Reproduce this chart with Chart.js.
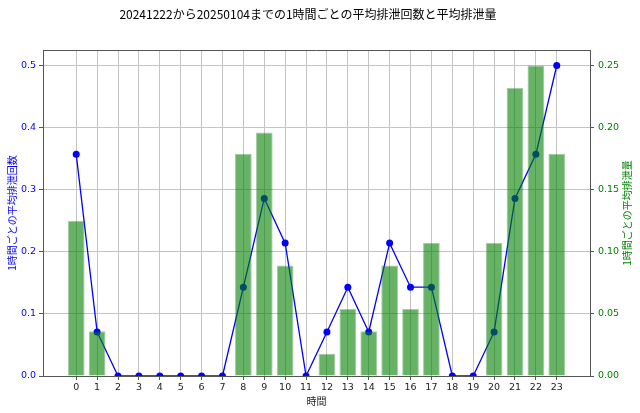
<!DOCTYPE html>
<html>
<head>
<meta charset="utf-8">
<script src="https://cdn.jsdelivr.net/npm/chart.js@4"></script>
<style>
  html, body { margin: 0; padding: 0; background: #fff; }
  #wrap { width: 640px; height: 413px; }
</style>
</head>
<body>
<div id="wrap"><canvas id="chart"></canvas></div>
<script>
/* 1時間ごとの平均排泄回数と平均排泄量 — bar + line, two y axes */

const hours = [0, 1, 2, 3, 4, 5, 6, 7, 8, 9, 10, 11, 12, 13, 14, 15, 16, 17, 18, 19, 20, 21, 22, 23];
const avgCount = [0.357, 0.071, 0, 0, 0, 0, 0, 0, 0.143, 0.286, 0.214, 0, 0.071, 0.143, 0.071, 0.214, 0.143, 0.143, 0, 0, 0.071, 0.286, 0.357, 0.5];
const avgAmount = [0.125, 0.036, 0, 0, 0, 0, 0, 0, 0.179, 0.196, 0.089, 0, 0.018, 0.054, 0.036, 0.089, 0.054, 0.107, 0, 0, 0.107, 0.232, 0.25, 0.179];
const leftTicks = [0, 0.1, 0.2, 0.3, 0.4, 0.5];
const rightTicks = [0, 0.05, 0.10, 0.15, 0.20, 0.25];

const titleText = '20241222から20250104までの1時間ごとの平均排泄回数と平均排泄量';
const leftLabel = '1時間ごとの平均排泄回数';
const rightLabel = '1時間ごとの平均排泄量';
const xLabel = '時間';

const jpFont = '"Noto Sans CJK JP", "Noto Sans", sans-serif';
const tickFont = { family: '"DejaVu Sans", sans-serif', size: 9.5 };
const gridColor = '#c4c4c4';
const spineColor = '#555';

const extras = {
    id: 'extras',
    afterDraw(chart) {
        const ctx = chart.ctx;
        const a = chart.chartArea;
        ctx.save();
        // top spine
        ctx.strokeStyle = spineColor;
        ctx.lineWidth = 1;
        ctx.beginPath();
        ctx.moveTo(a.left, a.top + 0.5);
        ctx.lineTo(a.right, a.top + 0.5);
        ctx.stroke();
        // title
        ctx.fillStyle = '#000';
        ctx.font = '12px ' + jpFont;
        ctx.textAlign = 'center';
        ctx.textBaseline = 'middle';
        ctx.fillText(titleText, 308, 14);
        // right axis label, reads bottom to top
        ctx.translate(627, (a.top + a.bottom) / 2);
        ctx.rotate(-Math.PI / 2);
        ctx.fillStyle = 'green';
        ctx.font = '10px ' + jpFont;
        ctx.fillText(rightLabel, 0, 0);
        ctx.restore();
    },
};

new Chart(document.getElementById('chart'), {
    type: 'bar',
    data: {
        datasets: [{
            type: 'bar',
            label: rightLabel,
            data: hours.map(function (h, i) { return { x: h, y: avgAmount[i] }; }),
            yAxisID: 'y1',
            backgroundColor: 'rgba(0, 128, 0, 0.6)',
            borderColor: 'rgba(0, 110, 0, 0.35)',
            borderWidth: 1,
            categoryPercentage: 1,
            barPercentage: 0.8,
            order: 0,
        }, {
            type: 'line',
            label: leftLabel,
            data: hours.map(function (h, i) { return { x: h, y: avgCount[i] }; }),
            yAxisID: 'y',
            borderColor: 'blue',
            borderWidth: 1.3,
            pointRadius: 3.5,
            pointBackgroundColor: 'blue',
            pointBorderWidth: 0,
            tension: 0,
            clip: 0,
            order: 1,
        }],
    },
    options: {
        responsive: true,
        maintainAspectRatio: false,
        animation: false,
        layout: { padding: { top: 50, left: 0, right: 0, bottom: 0 } },
        plugins: {
            legend: { display: false },
            tooltip: { enabled: false },
        },
        scales: {
            x: {
                type: 'linear',
                position: 'bottom',
                min: -1.59,
                max: 24.59,
                offset: false,
                afterBuildTicks: function (s) { s.ticks = hours.map(function (v) { return { value: v }; }); },
                afterFit: function (s) { s.height = 37; },
                ticks: { color: '#222', font: tickFont, padding: 2, autoSkip: false, maxRotation: 0 },
                grid: { offset: false, color: gridColor, tickColor: spineColor, tickLength: 4 },
                border: { color: spineColor },
                title: {
                    display: true, text: xLabel, color: '#222',
                    font: { family: jpFont, size: 10 }, padding: { top: 0, bottom: 6 },
                },
            },
            y: {
                position: 'left',
                min: 0,
                max: 0.525,
                afterBuildTicks: function (s) { s.ticks = leftTicks.map(function (v) { return { value: v }; }); },
                afterFit: function (s) { s.width = 43; },
                ticks: {
                    color: 'blue', font: tickFont, padding: 3,
                    callback: function (v) { return v.toFixed(1); },
                },
                grid: { color: gridColor, tickColor: spineColor, tickLength: 4 },
                border: { color: spineColor },
                title: {
                    display: true, text: leftLabel, color: 'blue',
                    font: { family: jpFont, size: 10 }, padding: { top: 6, bottom: 0 },
                },
            },
            y1: {
                position: 'right',
                min: 0,
                max: 0.2625,
                afterBuildTicks: function (s) { s.ticks = rightTicks.map(function (v) { return { value: v }; }); },
                afterFit: function (s) { s.width = 50; },
                ticks: {
                    color: 'green', font: tickFont, padding: 4,
                    callback: function (v) { return v.toFixed(2); },
                },
                grid: { drawOnChartArea: false, tickColor: spineColor, tickLength: 4 },
                border: { color: spineColor },
            },
        },
    },
    plugins: [extras],
});
</script>
</body>
</html>
